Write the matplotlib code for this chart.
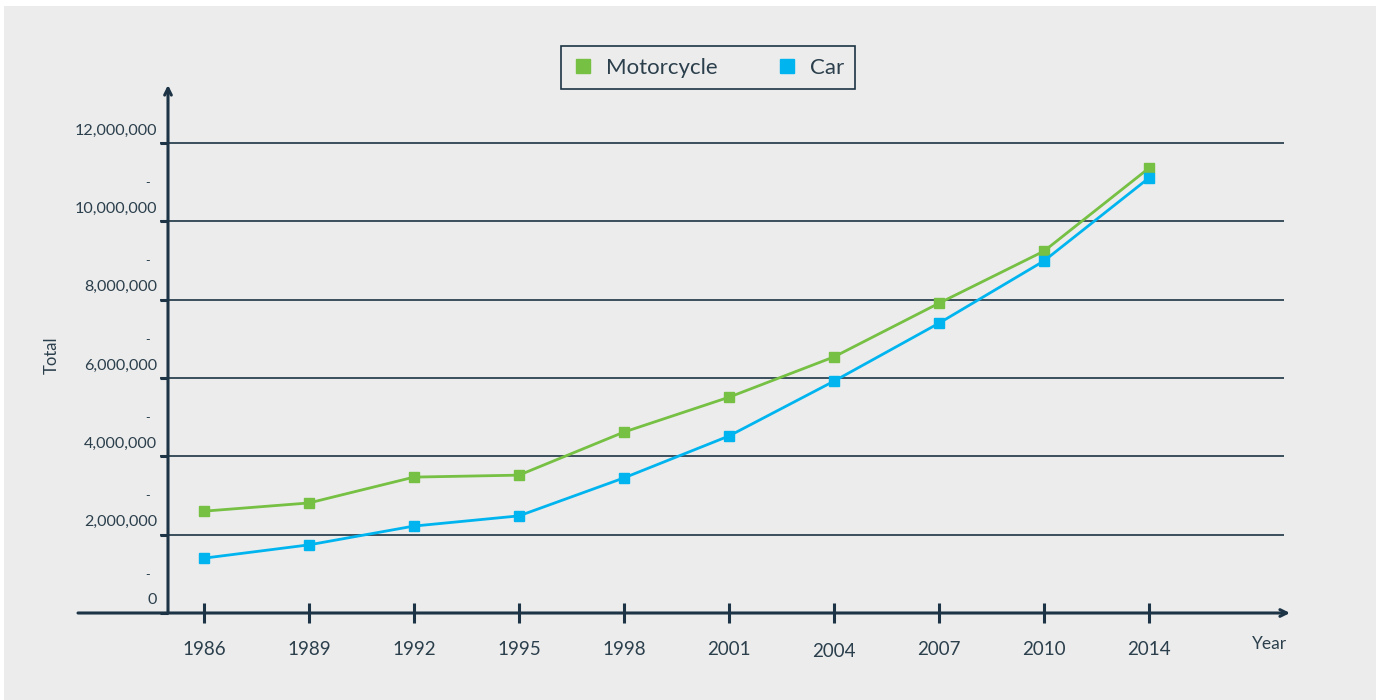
import matplotlib
matplotlib.use('Agg')
import matplotlib.pyplot as plt
from matplotlib.patches import Rectangle
from matplotlib.transforms import ScaledTranslation
from matplotlib.lines import Line2D

plt.rcParams['font.family'] = ['Lato', 'DejaVu Sans']

years = ['1986', '1989', '1992', '1995', '1998', '2001', '2004', '2007', '2010', '2014']
motorcycle = [2.60e6, 2.81e6, 3.47e6, 3.52e6, 4.62e6, 5.51e6, 6.54e6, 7.91e6, 9.24e6, 11.36e6]
car = [1.40e6, 1.74e6, 2.22e6, 2.48e6, 3.45e6, 4.52e6, 5.92e6, 7.40e6, 8.99e6, 11.11e6]
major_ticks = [0, 2e6, 4e6, 6e6, 8e6, 10e6, 12e6]
major_labels = ['0', '2,000,000', '4,000,000', '6,000,000', '8,000,000', '10,000,000', '12,000,000']
minor_ticks = [1e6, 3e6, 5e6, 7e6, 9e6, 11e6]

green = '#76c043'
blue = '#00b5ef'
dark = '#1c3445'
txt = '#2b3f4c'
bg = '#ececec'

W, H = 1383, 700
fig = plt.figure(figsize=(W / 100, H / 100), dpi=100, facecolor='white')
fig.patches.append(Rectangle((4 / W, 0), 1372 / W, 694 / H, transform=fig.transFigure,
                             facecolor=bg, edgecolor='none', zorder=-10))

# axes: left edge = y axis (x=168px), bottom = x axis (y=613px)
ax = fig.add_axes([168 / W, (H - 613) / H, (1290 - 168) / W, (613 - 85) / H])
ax.set_facecolor('none')
x = list(range(len(years)))
ax.set_xlim(-36 / 105, (1290 - 204) / 105)
ax.set_ylim(0, (613 - 85) / 78.33 * 2e6)
for s in ax.spines.values():
    s.set_visible(False)

# grid lines
ax.hlines(major_ticks[1:], (160 - 204) / 105, (1284 - 204) / 105, color=dark, lw=1.2,
          zorder=1, clip_on=False)

ax.plot(x, motorcycle, color=green, lw=2, marker='s', ms=7, zorder=3)
ax.plot(x, car, color=blue, lw=2, marker='s', ms=7, zorder=3)

# axis arrows
ax.annotate('', xy=(0, 1), xytext=(0, 0), xycoords='axes fraction',
            arrowprops=dict(arrowstyle='->', color=dark, lw=2.2, shrinkA=0, shrinkB=0,
                            mutation_scale=12))
ax.annotate('', xy=(1, 0), xytext=((78 - 168) / 1122, 0), xycoords='axes fraction',
            arrowprops=dict(arrowstyle='->', color=dark, lw=2.2, shrinkA=0, shrinkB=0,
                            mutation_scale=12))

# y ticks
ax.set_yticks(major_ticks)
ax.set_yticklabels(major_labels)
ax.tick_params(axis='y', which='major', direction='out', length=6, width=2.2, color=dark,
               labelsize=11.6, labelcolor=txt, pad=2)
for lab in ax.get_yticklabels():
    lab.set_transform(lab.get_transform() + ScaledTranslation(0, 14 / 100, fig.dpi_scale_trans))
ax.set_yticks(minor_ticks, minor=True)
ax.set_yticklabels(['-'] * len(minor_ticks), minor=True)
ax.tick_params(axis='y', which='minor', length=0, labelsize=9, labelcolor=txt, pad=13)

# x ticks
ax.set_xticks(x)
ax.set_xticklabels(years)
ax.tick_params(axis='x', direction='inout', length=14, width=2.2, color=dark,
               labelsize=13.5, labelcolor=txt, pad=13)
for lab in ax.get_xticklabels():
    if lab.get_text() == '2004':
        lab.set_transform(lab.get_transform() + ScaledTranslation(0, -2 / 100, fig.dpi_scale_trans))

fig.text(52 / W, 1 - 355 / H, 'Total', rotation=90, ha='center', va='center',
         fontsize=12, color=txt)
fig.text(1270 / W, 1 - 644 / H, 'Year', ha='center', va='center', fontsize=12.5, color=txt)

handles = [Line2D([], [], color=green, marker='s', ls='none', ms=10),
           Line2D([], [], color=blue, marker='s', ls='none', ms=10)]
leg = fig.legend(handles, ['Motorcycle', 'Car'], loc='center',
                 bbox_to_anchor=(708 / W, 1 - 67.5 / H), ncol=2, frameon=True,
                 fancybox=False, edgecolor=dark, facecolor=bg, framealpha=1,
                 fontsize=16, columnspacing=2.6, handletextpad=0.55, borderpad=0.5,
                 handlelength=1.0, labelcolor=txt)
leg.get_frame().set_linewidth(1.2)

fig.savefig('out.png', dpi=100, facecolor='white')
